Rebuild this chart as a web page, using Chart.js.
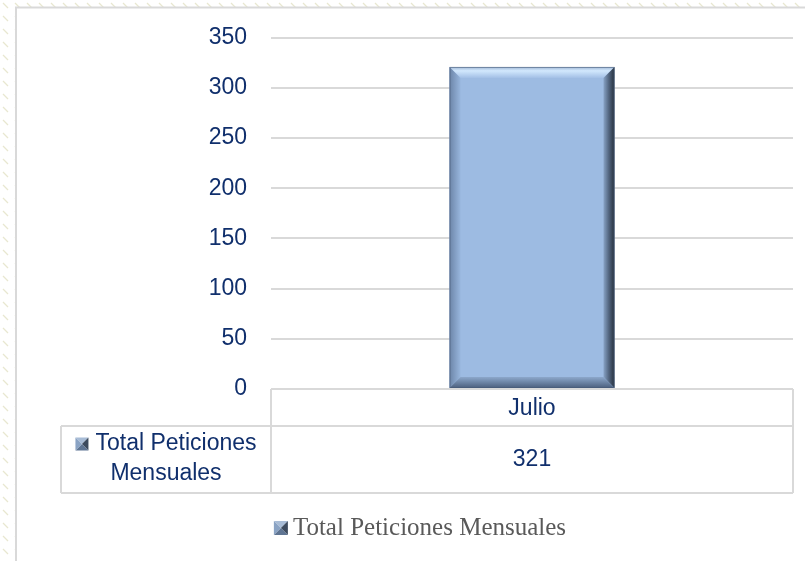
<!DOCTYPE html>
<html>
<head>
<meta charset="utf-8">
<script src="https://cdn.jsdelivr.net/npm/chart.js@4.4.1/dist/chart.umd.min.js"></script>
<style>
  html, body { margin: 0; padding: 0; background: #fff; }
  #chart { position: absolute; left: 0; top: 0; }
</style>
</head>
<body>
<canvas id="chart" width="805" height="561"></canvas>
<script>
// ---------------- DATOS ----------------
const meses = ['Julio'];
const peticiones = [321];
const serie = 'Total Peticiones Mensuales';
const serieTabla = ['Total Peticiones', 'Mensuales'];   // como sale partido en la tabla
const yTicks = { min: 0, max: 350, step: 50 };

const AZUL_TXT = '#102f6c';
const GRIS_LINEA = '#d9d9d9';

// -------- fondo con rayitas + marco --------
const fondoPlugin = {
  id: 'fondo',
  beforeDraw(chart) {
    const ctx = chart.ctx;
    const tile = document.createElement('canvas');
    tile.width = 12; tile.height = 13;
    const t = tile.getContext('2d');
    t.strokeStyle = 'rgba(214,212,170,0.55)';
    t.lineWidth = 1.2;
    t.beginPath(); t.moveTo(3, 3); t.lineTo(8, 8); t.stroke();

    ctx.save();
    ctx.fillStyle = ctx.createPattern(tile, 'repeat');
    ctx.fillRect(0, 0, chart.width, chart.height);
    ctx.fillStyle = '#fff';
    ctx.fillRect(16, 8, chart.width, chart.height);
    ctx.strokeStyle = GRIS_LINEA;
    ctx.lineWidth = 2;
    ctx.beginPath();
    ctx.moveTo(16, chart.height); ctx.lineTo(16, 7.5); ctx.lineTo(chart.width, 7.5);
    ctx.stroke();
    ctx.restore();
  }
};

// marcador pequeño tipo bisel (leyenda y tabla)
function drawMarker(ctx, x, y, s) {
  const cx = x + s / 2, cy = y + s / 2;
  const tri = (pts, col) => {
    ctx.fillStyle = col;
    ctx.beginPath();
    ctx.moveTo(pts[0], pts[1]);
    for (let i = 2; i < pts.length; i += 2) ctx.lineTo(pts[i], pts[i + 1]);
    ctx.closePath(); ctx.fill();
  };
  ctx.save();
  tri([x, y, x + s, y, cx, cy], '#a8bcd6');
  tri([x + s, y, x + s, y + s, cx, cy], '#3d4b5e');
  tri([x, y + s, x + s, y + s, cx, cy], '#5f7593');
  tri([x, y, x, y + s, cx, cy], '#8aa3c4');
  ctx.restore();
}

// -------- bisel de la barra (encima del relleno normal) --------
const biselPlugin = {
  id: 'bisel',
  afterDatasetsDraw(chart) {
    const ctx = chart.ctx;
    const meta = chart.getDatasetMeta(0);
    meta.data.forEach(el => {
      const p = el.getProps(['x', 'y', 'base', 'width'], true);
      const l = p.x - p.width / 2, r = p.x + p.width / 2;
      const t = Math.min(p.y, p.base), b = Math.max(p.y, p.base);
      const bv = 11;
      const poly = (pts, fill) => {
        ctx.fillStyle = fill;
        ctx.beginPath();
        ctx.moveTo(pts[0], pts[1]);
        for (let i = 2; i < pts.length; i += 2) ctx.lineTo(pts[i], pts[i + 1]);
        ctx.closePath(); ctx.fill();
      };
      ctx.save();
      // arriba
      let g = ctx.createLinearGradient(0, t, 0, t + bv);
      g.addColorStop(0, '#9fb6d4');
      g.addColorStop(0.35, '#d2e8fd');
      g.addColorStop(1, '#a3c0e6');
      poly([l, t, r, t, r - bv, t + bv, l + bv, t + bv], g);
      // izquierda
      g = ctx.createLinearGradient(l, 0, l + bv, 0);
      g.addColorStop(0, '#6c85a8');
      g.addColorStop(1, '#98b6dd');
      poly([l, t, l + bv, t + bv, l + bv, b - bv, l, b], g);
      // derecha (oscuro)
      g = ctx.createLinearGradient(r - bv, 0, r, 0);
      g.addColorStop(0, '#88a3c6');
      g.addColorStop(0.5, '#51647e');
      g.addColorStop(1, '#26303c');
      poly([r, t, r, b, r - bv, b - bv, r - bv, t + bv], g);
      // abajo
      g = ctx.createLinearGradient(0, b - bv, 0, b);
      g.addColorStop(0, '#8ca7cb');
      g.addColorStop(1, '#4b5f7d');
      poly([l, b, r, b, r - bv, b - bv, l + bv, b - bv], g);
      ctx.strokeStyle = 'rgba(70,90,120,0.6)';
      ctx.lineWidth = 1;
      ctx.strokeRect(l + 0.5, t + 0.5, r - l - 1, b - t - 1);
      ctx.restore();
    });
  }
};

// -------- tabla de datos debajo + leyenda --------
const tablaPlugin = {
  id: 'tabla',
  afterDraw(chart) {
    const ctx = chart.ctx;
    const area = chart.chartArea;
    const xs = chart.scales.x;
    const r1 = area.bottom, r2 = r1 + 37, r3 = r2 + 67;
    const izq = 61;

    ctx.save();
    ctx.strokeStyle = GRIS_LINEA;
    ctx.lineWidth = 2;
    ctx.beginPath();
    ctx.moveTo(area.left, r1); ctx.lineTo(area.right, r1);
    ctx.moveTo(izq, r2); ctx.lineTo(area.right, r2);
    ctx.moveTo(izq, r3); ctx.lineTo(area.right, r3);
    ctx.moveTo(area.left, r1); ctx.lineTo(area.left, r3);
    ctx.moveTo(area.right, r1); ctx.lineTo(area.right, r3);
    ctx.moveTo(izq, r2); ctx.lineTo(izq, r3);
    ctx.stroke();

    ctx.fillStyle = AZUL_TXT;
    ctx.font = '23px "Liberation Sans", Arial, sans-serif';
    ctx.textAlign = 'center';
    ctx.textBaseline = 'middle';
    meses.forEach((m, i) => {
      const cx = xs.getPixelForValue(i);
      ctx.fillText(m, cx, (r1 + r2) / 2 + 1);
      ctx.fillText(String(peticiones[i]), cx, (r2 + r3) / 2);
    });

    // nombre de la serie en la celda izquierda (2 lineas, marcador en la 1a)
    const cxIzq = (izq + area.left) / 2;
    const w1 = ctx.measureText(serieTabla[0]).width;
    const mk = 13, gap = 7;
    const x0 = cxIzq - (mk + gap + w1) / 2;
    const yl1 = r2 + 18, yl2 = r2 + 48;
    drawMarker(ctx, x0, yl1 - mk / 2, mk);
    ctx.fillStyle = AZUL_TXT;
    ctx.textAlign = 'left';
    ctx.fillText(serieTabla[0], x0 + mk + gap, yl1);
    ctx.textAlign = 'center';
    ctx.fillText(serieTabla[1], cxIzq, yl2);

    // leyenda abajo
    ctx.font = '25px "Liberation Serif", "Times New Roman", serif';
    ctx.textAlign = 'left';
    const wl = ctx.measureText(serie).width;
    const lx = 420 - (14 + 5 + wl) / 2, ly = 528;
    drawMarker(ctx, lx, ly - 7, 14);
    ctx.fillStyle = '#595959';
    ctx.fillText(serie, lx + 19, ly);
    ctx.restore();
  }
};

// ---------------- CHART ----------------
new Chart(document.getElementById('chart'), {
  type: 'bar',
  data: {
    labels: meses,
    datasets: [{
      label: serie,
      data: peticiones,
      backgroundColor: '#9dbbe2',
      borderWidth: 0,
      barPercentage: 0.316,
      categoryPercentage: 1
    }]
  },
  options: {
    responsive: false,
    animation: false,
    layout: { padding: { top: 37, right: 12, bottom: 172, left: 0 } },
    plugins: { legend: { display: false }, tooltip: { enabled: false } },
    scales: {
      x: { display: false },
      y: {
        min: yTicks.min,
        max: yTicks.max,
        afterFit: s => { s.width = 271; },
        border: { display: false },
        grid: { color: GRIS_LINEA, lineWidth: 2, drawTicks: false },
        ticks: {
          stepSize: yTicks.step,
          padding: 24,
          color: AZUL_TXT,
          font: { family: '"Liberation Sans", Arial, sans-serif', size: 23 }
        }
      }
    }
  },
  plugins: [fondoPlugin, biselPlugin, tablaPlugin]
});
</script>
</body>
</html>
